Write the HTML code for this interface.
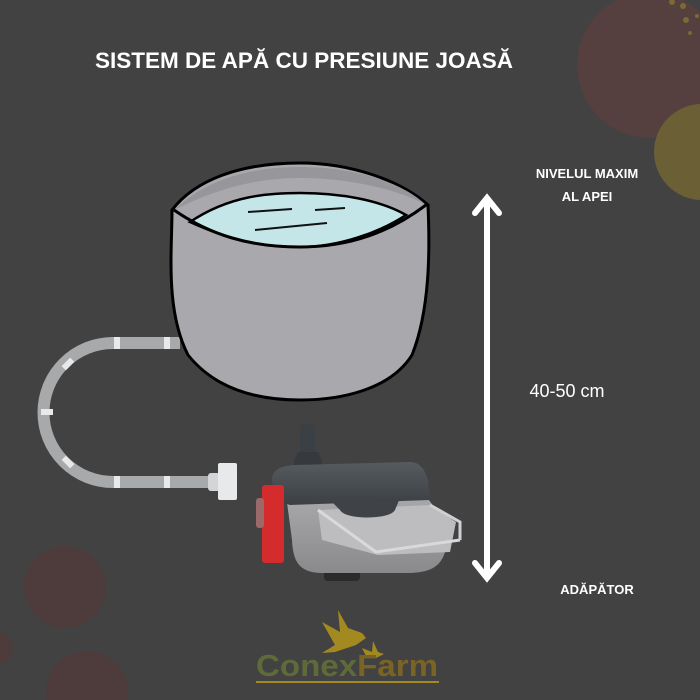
<!DOCTYPE html>
<html><head><meta charset="utf-8"><style>
body{margin:0;background:#424242;}
svg{display:block}
</style></head><body>
<svg width="700" height="700" viewBox="0 0 700 700" xmlns="http://www.w3.org/2000/svg">
<defs>
<linearGradient id="body" x1="0" y1="0" x2="0" y2="1"><stop offset="0" stop-color="#a9a9ab"/><stop offset="1" stop-color="#8a8a8c"/></linearGradient>
<linearGradient id="lid" x1="0" y1="0" x2="0" y2="1"><stop offset="0" stop-color="#565b60"/><stop offset="1" stop-color="#3c4044"/></linearGradient>
</defs>
<rect width="700" height="700" fill="#424242"/>
<circle cx="650" cy="65" r="73" fill="#553f3f"/>
<circle cx="702" cy="152" r="48" fill="#6b5f35"/>
<circle cx="672" cy="2" r="3" fill="#7a6a35"/><circle cx="683" cy="6" r="3" fill="#7a6a35"/>
<circle cx="686" cy="20" r="3" fill="#7a6a35"/><circle cx="697" cy="16" r="2" fill="#7a6a35"/><circle cx="690" cy="33" r="2" fill="#7a6a35"/>
<circle cx="65" cy="587" r="41" fill="#4e3b3b"/>
<circle cx="-3" cy="648" r="16" fill="#4e3b3b"/>
<circle cx="87" cy="692" r="41" fill="#4e3b3b"/>
<text x="304" y="68" text-anchor="middle" font-family="Liberation Sans, sans-serif" font-weight="bold" font-size="22.5" fill="#fff">SISTEM DE APĂ CU PRESIUNE JOASĂ</text>
<!-- hose -->
<path d="M180 343 H113 A69 69 0 0 0 113 482 H212" fill="none" stroke="#a8a9ab" stroke-width="12"/>
<g fill="#e8e9eb">
<rect x="114" y="337" width="6" height="12"/><rect x="164" y="337" width="6" height="12"/>
<rect x="114" y="476" width="6" height="12"/><rect x="164" y="476" width="6" height="12"/>
<rect x="41" y="409" width="12" height="6"/>
<rect x="62" y="361" width="12" height="6" transform="rotate(-45 68 364)"/>
<rect x="62" y="459" width="12" height="6" transform="rotate(45 68 462)"/>
</g>
<rect x="208" y="473" width="12" height="18" rx="3" fill="#d4d5d9"/>
<rect x="218" y="463" width="19" height="37" rx="2" fill="#e8e9eb"/>
<!-- bucket -->
<path d="M172 210 C172 250 165 310 188 355 C220 395 270 400 300 400 C340 400 390 390 412 355 C430 310 430 250 428 205 C400 180 350 163 300 163 C240 163 195 180 172 210 Z" fill="#a9a9ad" stroke="#000" stroke-width="3"/>
<path d="M174 210 C210 175 260 167 300 167 C350 167 400 180 426 205 C400 190 350 178 300 178 C250 178 210 192 174 210 Z" fill="#97979b"/>
<path d="M190 222 C230 195 270 193 300 193 C340 193 380 200 406 215 C380 232 340 247 300 247 C260 247 230 240 190 222 Z" fill="#c5e6e9" stroke="#000" stroke-width="2.5"/>
<path d="M174 210 C210 235 250 247 300 247 C350 247 390 232 426 205" fill="none" stroke="#000" stroke-width="3"/>
<g stroke="#111" stroke-width="2" fill="none"><path d="M248 212 L292 209"/><path d="M315 210 L345 208"/><path d="M255 230 L327 223"/></g>
<!-- drinker -->
<rect x="324" y="567" width="36" height="14" rx="4" fill="#2a2b2d"/>
<path d="M286 495 L425 495 L448 525 C448 560 440 572 410 573 L320 573 C298 572 293 560 292 540 Z" fill="url(#body)"/>
<path d="M318 510 L430 505 L456 522 L450 552 L378 555 L322 540 Z" fill="#bdbdbf"/>
<path d="M318 510 L376 552 L460 540" fill="none" stroke="#d8d9db" stroke-width="3"/>
<path d="M430 505 L460 522 L460 540" fill="none" stroke="#cfd0d2" stroke-width="3"/>
<rect x="300" y="424" width="15" height="30" rx="4" fill="#3b4044"/>
<path d="M298 452 H318 L322 460 V475 H294 V460 Z" fill="#363a3e"/>
<path d="M272 480 C272 470 280 466 295 465 L410 462 C420 462 425 470 428 480 L430 500 L290 505 L275 500 Z" fill="url(#lid)"/>
<path d="M330 500 L400 498 L395 510 C390 520 345 520 340 510 Z" fill="#3f4347"/>
<rect x="262" y="485" width="22" height="78" rx="3" fill="#d42c2c"/>
<rect x="256" y="498" width="8" height="30" rx="3" fill="#9a6a6a"/>
<!-- arrow -->
<g stroke="#fff" stroke-width="6" stroke-linecap="round" fill="none">
<path d="M487 200 V576"/><path d="M475 213 L487 198 L499 213"/><path d="M475 563 L487 578 L499 563"/>
</g>
<g font-family="Liberation Sans, sans-serif" fill="#fff">
<text x="587" y="178" text-anchor="middle" font-weight="bold" font-size="13">NIVELUL MAXIM</text>
<text x="587" y="201" text-anchor="middle" font-weight="bold" font-size="13">AL APEI</text>
<text x="567" y="397" text-anchor="middle" font-size="18">40-50 cm</text>
<text x="597" y="594" text-anchor="middle" font-weight="bold" font-size="13">ADĂPĂTOR</text>
</g>
<!-- logo -->
<path d="M322 622 L340 632 L338 610 L348 628 L362 633 L366 638 L356 645 L335 652 L322 653 L335 645 Z" fill="#a38a20"/>
<path d="M362 648 L372 652 L373 641 L378 652 L384 654 L376 658 L367 658 Z" fill="#a38a20"/>
<text x="256" y="676" font-family="Liberation Sans, sans-serif" font-weight="bold" font-size="31" fill="#5e6a3a" textLength="182" lengthAdjust="spacingAndGlyphs">Conex<tspan fill="#7a6425">Farm</tspan></text>
<rect x="256" y="681" width="183" height="2" fill="#a38a20"/>
</svg>
</body></html>
